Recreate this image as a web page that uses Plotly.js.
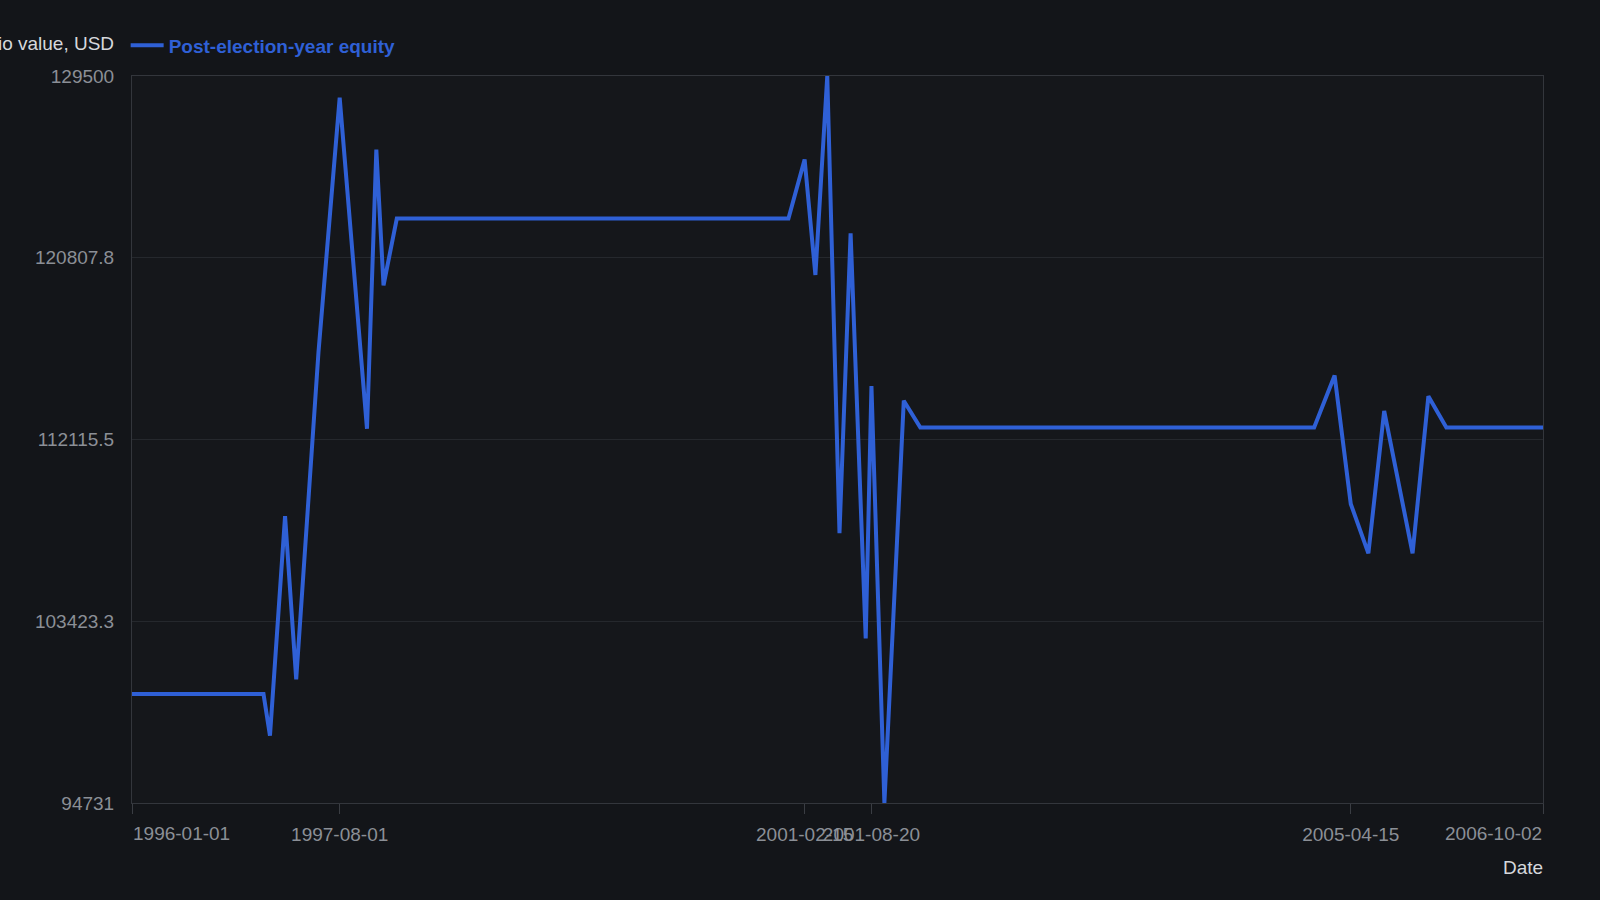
<!DOCTYPE html>
<html>
<head>
<meta charset="utf-8">
<script src="https://cdn.plot.ly/plotly-3.0.1.min.js"></script>
<style>
  html, body { margin: 0; padding: 0; background: #131519; }
  #chart { width: 1600px; height: 900px; }
</style>
</head>
<body>
<div id="chart"></div>
<script>
const seriesName = 'Post-election-year equity';
const dates = [
  '1996-01-01', '1997-01-01', '1997-01-19', '1997-03-02', '1997-04-02', '1997-06-03',
  '1997-08-01', '1997-10-16', '1997-11-11', '1997-12-01', '1998-01-07',
  '2001-01-01', '2001-02-15', '2001-03-17', '2001-04-19', '2001-05-23', '2001-06-23',
  '2001-08-04', '2001-08-20', '2001-09-25', '2001-11-18', '2002-01-03',
  '2005-01-03', '2005-03-01', '2005-04-15', '2005-06-03', '2005-07-17', '2005-10-04',
  '2005-11-17', '2006-01-06', '2006-10-02'
];
const values = [
  99940, 99940, 97950, 108445, 100645, 116290,
  128460, 112630, 125980, 119490, 122680,
  122680, 125510, 119985, 129500, 107640, 121980,
  102600, 114672, 94731, 113970, 112690,
  112690, 115175, 109035, 106670, 113485, 106670,
  114185, 112690, 112690
];
const xTickVals = ['1996-01-01', '1997-08-01', '2001-02-15', '2001-08-20', '2005-04-15', '2006-10-02'];
const xTickText = ['1996-01-01', '1997-08-01', '2001-02-15', '2001-08-20', '2005-04-15', '2006-10-02'];
const yTickVals = [94731, 103423.3, 112115.5, 120807.8, 129500];
const yTickText = ['94731', '103423.3', '112115.5', '120807.8', '129500'];
const yTitle = 'Portfolio value, USD';
const xTitle = 'Date';

const lineColor = '#2f60d6';
const fontFam = '"Liberation Sans", Arial, Helvetica, sans-serif';
const tickColor = '#8b8f96';

const trace = {
  x: dates,
  y: values,
  type: 'scatter',
  mode: 'lines',
  name: seriesName,
  line: { color: lineColor, width: 4 },
  showlegend: true
};

// first and last tick labels are drawn inward-aligned at the axis ends
const lastIdx = xTickVals.length - 1;
const axisTickText = xTickText.map((t, i) => (i === 0 || i === lastIdx) ? '' : t);

const layout = {
  width: 1600,
  height: 900,
  paper_bgcolor: '#131519',
  plot_bgcolor: '#15171b',
  margin: { l: 132, r: 57, t: 75.5, b: 97 },
  font: { family: fontFam, size: 19, color: tickColor },
  showlegend: true,
  legend: {
    orientation: 'h',
    x: -0.0045, xanchor: 'left',
    y: 1.016, yanchor: 'bottom',
    itemwidth: 33,
    font: { family: fontFam, size: 19, color: lineColor, weight: 'bold' },
    bgcolor: 'rgba(0,0,0,0)'
  },
  xaxis: {
    type: 'date',
    range: ['1996-01-01', '2006-10-02'],
    tickmode: 'array',
    tickvals: xTickVals,
    ticktext: axisTickText,
    tickangle: 0,
    ticks: 'outside',
    ticklen: 10,
    tickwidth: 1,
    tickcolor: '#3a3d43',
    ticklabelstandoff: 4,
    showgrid: false,
    zeroline: false,
    showline: true,
    linecolor: '#33363c',
    linewidth: 1,
    mirror: true,
    tickfont: { family: fontFam, size: 19, color: tickColor }
  },
  yaxis: {
    range: [94731, 129500],
    tickmode: 'array',
    tickvals: yTickVals,
    ticktext: yTickText,
    ticks: '',
    showgrid: true,
    gridcolor: '#25282d',
    gridwidth: 1,
    zeroline: false,
    showline: true,
    linecolor: '#33363c',
    linewidth: 1,
    mirror: true,
    ticklabelstandoff: 13,
    tickfont: { family: fontFam, size: 19, color: tickColor }
  },
  annotations: [
    {
      text: yTitle, xref: 'paper', yref: 'paper',
      x: -0.0115, y: 1.0, xanchor: 'right', yanchor: 'bottom', yshift: 20,
      showarrow: false,
      font: { family: fontFam, size: 19, color: '#d6d8dc' }
    },
    {
      text: xTitle, xref: 'paper', yref: 'paper',
      x: 1.0, y: 0, xanchor: 'right', yanchor: 'top', yshift: -52, xshift: 2,
      showarrow: false,
      font: { family: fontFam, size: 19, color: '#d6d8dc' }
    },
    {
      text: xTickText[0], xref: 'x', yref: 'paper',
      x: xTickVals[0], y: 0, xanchor: 'left', yanchor: 'top', yshift: -18, xshift: -1,
      showarrow: false,
      font: { family: fontFam, size: 19, color: tickColor }
    },
    {
      text: xTickText[lastIdx], xref: 'x', yref: 'paper',
      x: xTickVals[lastIdx], y: 0, xanchor: 'right', yanchor: 'top', yshift: -18, xshift: 1,
      showarrow: false,
      font: { family: fontFam, size: 19, color: tickColor }
    }
  ]
};

Plotly.newPlot('chart', [trace], layout, { displayModeBar: false, staticPlot: true });
</script>
</body>
</html>
